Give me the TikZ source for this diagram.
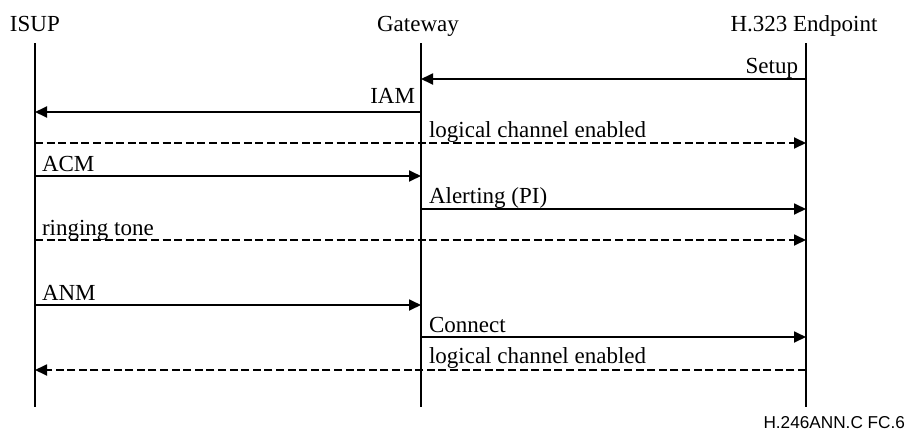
\documentclass[tikz,border=0pt]{standalone}
\usepackage{fontspec}
\setmainfont{Liberation Serif}
\newfontfamily\labelsans{Liberation Sans}
\usetikzlibrary{arrows.meta}
\begin{document}
\begin{tikzpicture}[x=0.5pt, y=-0.5pt,
  every node/.style={inner sep=0pt, outer sep=0pt, font=\fontsize{11.5pt}{13pt}\selectfont},
  lifeline/.style={line width=1pt},
  msg/.style={line width=0.9pt, -{Triangle[length=6pt, width=5.5pt]}},
  flow/.style={msg, dash pattern=on 4pt off 1.8pt},
  heading/.style={anchor=base},
  lblR/.style={anchor=base west},
  lblL/.style={anchor=base east}]
  \useasboundingbox (0,0) rectangle (916,434);

  % participants
  \node[heading, anchor=base west] (hIsup) at (10,31) {ISUP};
  \node[heading] (hGw) at (418,31) {Gateway};
  \node[heading] (hEp) at (804,31) {H.323 Endpoint};

  % lifelines
  \coordinate (isup) at (35,43);
  \coordinate (gw) at (421,43);
  \coordinate (ep) at (806,43);
  \coordinate (bottom) at (0,407);
  \draw[lifeline] (isup) -- (isup |- bottom);
  \draw[lifeline] (gw) -- (gw |- bottom);
  \draw[lifeline] (ep) -- (ep |- bottom);

  % message levels
  \coordinate (m1) at (0,79);
  \coordinate (m2) at (0,112);
  \coordinate (m3) at (0,143);
  \coordinate (m4) at (0,176);
  \coordinate (m5) at (0,209);
  \coordinate (m6) at (0,240);
  \coordinate (m7) at (0,305);
  \coordinate (m8) at (0,337);
  \coordinate (m9) at (0,370);

  % messages
  \draw[msg] (ep |- m1) -- (gw |- m1);
  \node[lblL] (tSetup) at (798,73) {Setup};

  \draw[msg] (gw |- m2) -- (isup |- m2);
  \node[lblL] (tIam) at (415,103) {IAM};

  \draw[flow] (isup |- m3) -- (ep |- m3);
  \node[lblR] (tLc1) at (429,137) {logical channel enabled};

  \draw[msg] (isup |- m4) -- (gw |- m4);
  \node[lblR] (tAcm) at (42,171) {ACM};

  \draw[msg] (gw |- m5) -- (ep |- m5);
  \node[lblR] (tAlert) at (429,203) {Alerting (PI)};

  \draw[flow] (isup |- m6) -- (ep |- m6);
  \node[lblR] (tRing) at (42,235) {ringing tone};

  \draw[msg] (isup |- m7) -- (gw |- m7);
  \node[lblR] (tAnm) at (42,300) {ANM};

  \draw[msg] (gw |- m8) -- (ep |- m8);
  \node[lblR] (tConn) at (429,332) {Connect};

  \draw[flow] (ep |- m9) -- (isup |- m9);
  \node[lblR] (tLc2) at (429,363) {logical channel enabled};

  % figure reference
  \node[anchor=base east, font=\labelsans\fontsize{8.6pt}{10pt}\selectfont] (ref) at (905,428) {H.246ANN.C FC.6};
\end{tikzpicture}
\end{document}
